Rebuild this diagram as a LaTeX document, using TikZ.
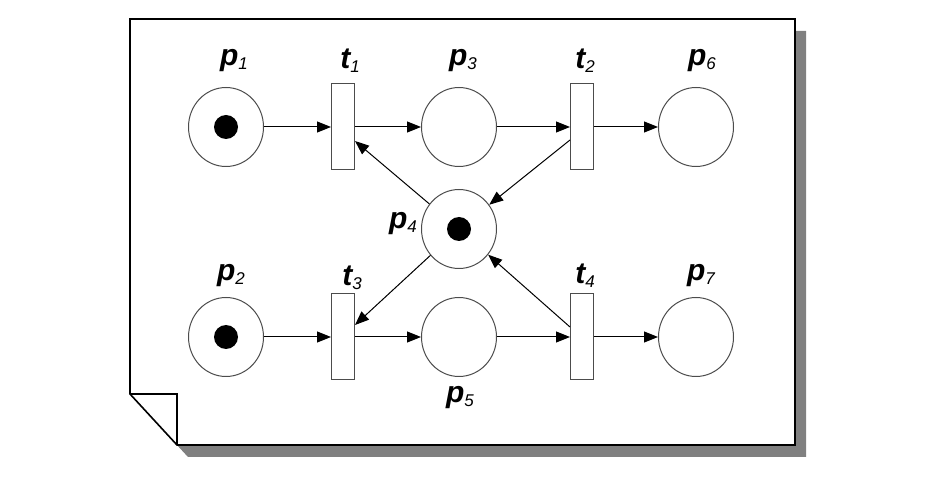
\documentclass[tikz,border=0pt]{standalone}
\usepackage{fontspec}
\setmainfont{Liberation Sans}
\usetikzlibrary{arrows.meta,shapes.geometric,calc}
\newcommand{\netlabel}[2]{{\bfseries\itshape #1}\raisebox{-0.12em}{\fontsize{17}{17}\selectfont\itshape #2}}
\tikzset{
  place/.style={draw=black!70, line width=1pt, ellipse, minimum width=75pt, minimum height=79pt, inner sep=0pt},
  trans/.style={draw=black!70, line width=1pt, rectangle, minimum width=23pt, minimum height=86pt, inner sep=0pt},
  arc/.style={-{Triangle[length=14pt,width=11pt]}, line width=1pt},
  lab/.style={font=\fontsize{30}{30}\selectfont, inner sep=0pt}
}
\begin{document}
\begin{tikzpicture}[x=1pt,y=-1pt]
\useasboundingbox (0,0) rectangle (938,486);
% Sheet with shadow and folded corner
\fill[black!50] (141,31) -- (806,31) -- (806,457) -- (188,457) -- (141,406) -- cycle;
\draw[fill=white, line width=1.6pt] (130,19) -- (795,19) -- (795,445) -- (177,445) -- (130,394) -- cycle;
\draw[line width=1.2pt] (130,394) -- (177,394) -- (177,445);
% Places
\node[place] (p1) at (226,127) {};
\node[place] (p3) at (459,127) {};
\node[place] (p6) at (696,127) {};
\node[place] (p4) at (459,229) {};
\node[place] (p2) at (226,337) {};
\node[place] (p5) at (459,337) {};
\node[place] (p7) at (696,337) {};
% Tokens
\fill (p1) circle[radius=12pt];
\fill (p2) circle[radius=12pt];
\fill (p4) circle[radius=12pt];
% Transitions
\node[trans] (t1) at (343,127) {};
\node[trans] (t2) at (582,127) {};
\node[trans] (t3) at (343,337) {};
\node[trans] (t4) at (582,337) {};
% Labels
\node[lab] (lp1) at (234,61) {\netlabel{p}{1}};
\node[lab] (lt1) at (350,61) {\netlabel{t}{1}};
\node[lab] (lp3) at (463,61) {\netlabel{p}{3}};
\node[lab] (lt2) at (585,61) {\netlabel{t}{2}};
\node[lab] (lp6) at (702,61) {\netlabel{p}{6}};
\node[lab] (lp4) at (403,224) {\netlabel{p}{4}};
\node[lab] (lp2) at (231,276) {\netlabel{p}{2}};
\node[lab] (lt3) at (352,278) {\netlabel{t}{3}};
\node[lab] (lt4) at (585,276) {\netlabel{t}{4}};
\node[lab] (lp7) at (701,276) {\netlabel{p}{7}};
\node[lab] (lp5) at (460,398) {\netlabel{p}{5}};
% Arcs
\draw[arc] (p1) -- (t1);
\draw[arc] (t1) -- (p3);
\draw[arc] (p3) -- (t2);
\draw[arc] (t2) -- (p6);
\draw[arc] (p2) -- (t3);
\draw[arc] (t3) -- (p5);
\draw[arc] (p5) -- (t4);
\draw[arc] (t4) -- (p7);
\draw[arc] (p4) -- ($(t1.east)+(0,14)$);
\draw[arc] ($(t2.west)+(0,13)$) -- (p4);
\draw[arc] (p4) -- ($(t3.east)+(0,-12)$);
\draw[arc] ($(t4.west)+(0,-10)$) -- (p4);
\end{tikzpicture}
\end{document}
